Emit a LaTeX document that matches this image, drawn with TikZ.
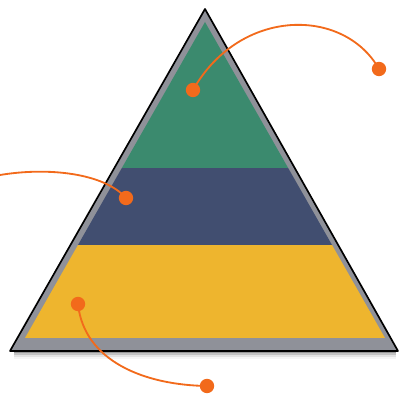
\documentclass[tikz,border=0pt]{standalone}
\usepackage{xcolor}
\usepackage{tikz}
\definecolor{PyGreen}{HTML}{3B8A6E}
\definecolor{PyBlue}{HTML}{414E70}
\definecolor{PyGold}{HTML}{EEB52E}
\definecolor{PyGrey}{HTML}{8F9199}
\definecolor{PyOrange}{HTML}{F26A1B}
\tikzset{
  pyrdot/.style={circle,fill=PyOrange,inner sep=0pt,minimum size=0.36cm},
  pyrlink/.style={draw=PyOrange,line width=1.3pt}
}
\begin{document}
\begin{tikzpicture}[x=1cm,y=1cm]
\path[use as bounding box] (0,0) rectangle (9.975,9.925);
% soft shadow under the base
\foreach \d/\o in {0.05/0.22,0.10/0.14,0.15/0.08,0.20/0.04}
  \fill[black,opacity=\o] (0.35,1.15) rectangle (9.90,1.15-\d);
% grey frame
\fill[PyGrey] (5.125,9.70) -- (0.25,1.15) -- (9.95,1.15) -- cycle;
% the three bands
\begin{scope}
\clip (5.125,9.375) -- (0.625,1.475) -- (9.625,1.475) -- cycle;
\fill[PyGold] (0,1.475) rectangle (9.975,3.80);
\fill[PyBlue] (0,3.80) rectangle (9.975,5.725);
\fill[PyGreen] (0,5.725) rectangle (9.975,9.70);
\end{scope}
\draw[black,line width=1.2pt,line join=round] (5.125,9.70) -- (0.25,1.15) -- (9.95,1.15) -- cycle;
% callout dots
\node[pyrdot] (topin) at (4.825,7.675) {};
\node[pyrdot] (topout) at (9.475,8.20) {};
\node[pyrdot] (midin) at (3.15,4.975) {};
\coordinate (midout) at (0,5.55);
\node[pyrdot] (lowin) at (1.95,2.325) {};
\node[pyrdot] (lowout) at (5.175,0.275) {};
% callout links
\draw[pyrlink] (topin.center) .. controls (6.0,9.75) and (8.6,9.75) .. (topout.center);
\draw[pyrlink] (midin.center) .. controls (2.6,5.6) and (1.2,5.75) .. (midout);
\draw[pyrlink] (lowin.center) .. controls (2.1,0.9) and (3.6,0.3) .. (lowout.center);
\end{tikzpicture}
\end{document}
